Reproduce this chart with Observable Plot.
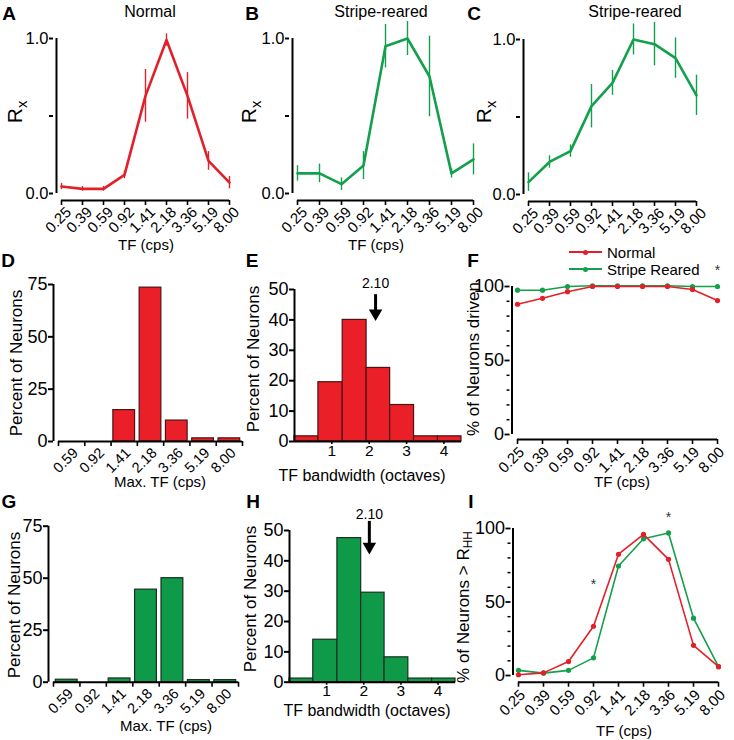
<!DOCTYPE html>
<html><head><meta charset="utf-8">
<script src="https://cdn.jsdelivr.net/npm/d3@7"></script>
<script src="https://cdn.jsdelivr.net/npm/@observablehq/plot@0.6"></script>
<style>
body{margin:0;background:#fff;}
#fig{position:relative;width:734px;height:740px;font-family:"Liberation Sans",Arial,sans-serif;color:#000;overflow:hidden;background:#fff}
.t{position:absolute;white-space:nowrap;transform:translate(-50%,-50%);line-height:1}
.yl{position:absolute;white-space:nowrap;transform:translate(-50%,-50%) rotate(-90deg);line-height:1}
.let{position:absolute;white-space:nowrap;transform:translate(-50%,-50%);font-weight:bold;font-size:19px;line-height:1}
sub{font-size:70%;vertical-align:-0.3em}
</style></head><body><div id="fig"></div>
<script>
// ---------------- data ----------------
const tfLabels = ["0.25","0.39","0.59","0.92","1.41","2.18","3.36","5.19","8.00"];
// A: Normal, normalized response (mean, error)
const rxNormal    = [0.045, 0.03, 0.03, 0.12, 0.63, 0.99, 0.63, 0.21, 0.07];
const rxNormalErr = [0.02, 0.015, 0.015, 0.025, 0.17, 0.04, 0.15, 0.06, 0.04];
// B: Stripe-reared
const rxStripeB    = [0.13, 0.13, 0.06, 0.18, 0.95, 1.0, 0.755, 0.13, 0.22];
const rxStripeBErr = [0.05, 0.06, 0.04, 0.09, 0.14, 0.11, 0.26, 0.03, 0.10];
// C: Stripe-reared
const rxStripeC    = [0.08, 0.21, 0.28, 0.57, 0.72, 1.0, 0.97, 0.88, 0.64];
const rxStripeCErr = [0.06, 0.04, 0.04, 0.14, 0.08, 0.10, 0.14, 0.13, 0.13];
// D / G: Max TF distributions
const maxTfLabels = ["0.59","0.92","1.41","2.18","3.36","5.19","8.00"];
const maxTfNormal = [0, 0, 15, 73.5, 10, 1.5, 1.5];
const maxTfStripe = [1.2, 0, 1.8, 44.5, 50, 1, 1];
// E / H: TF bandwidth histograms
const bwEdges  = [0, 0.64, 1.29, 1.93, 2.56, 3.2, 3.84, 4.47];
const bwNormal = [1.7, 19.5, 40, 24.2, 12, 1.7, 1.7];
const bwStripe = [1.2, 14, 47.5, 29.5, 8.2, 1.2, 1.2];
const bwMedianText = "2.10";
const bwArrowE = {x: 2.17, top: 48.3, tip: 39.6, label: 52};
const bwArrowH = {x: 2.15, top: 53, tip: 42.1, label: 55.3};
// F: % neurons driven
const drivenNormal = [88, 92, 96.5, 100, 100, 100, 100, 98, 90.5];
const drivenStripe = [97.5, 97.5, 100, 100.5, 100.5, 100.5, 100.5, 100, 100];
const drivenStars = [{tf: "8.00", v: 111}];
// I: % neurons > R_HH
const rhhNormal = [0.5, 1.8, 9.5, 33.5, 82.5, 96, 79, 20.5, 6];
const rhhStripe = [3.5, 1.6, 3.5, 12, 74.5, 93, 97, 39, 6];
const rhhStars = [{tf: "0.92", v: 62}, {tf: "3.36", v: 107.5}];
const seriesNames = ["Normal", "Stripe Reared"];

// ---------------- styles ----------------
const FONT = '"Liberation Sans", Arial, sans-serif';
const RED = "#e3202a", GREEN = "#13a04c";
const BAR_RED = "#ea1f27", BAR_GREEN = "#0f9a49";
const EDGE_RED = "#4a1414", EDGE_GREEN = "#17301f";
const style = {fontFamily: FONT, fontSize: "15px", background: "transparent", overflow: "visible", color: "#000"};
const fig = document.getElementById("fig");

function put(svg, left, top, xTickSize) {
  svg.style.position = "absolute";
  svg.style.left = left + "px";
  svg.style.top = top + "px";
  svg.style.maxWidth = "none";
  if (xTickSize) {
    svg.querySelectorAll('[aria-label="x-axis tick label"]').forEach(g => {
      g.style.fontSize = xTickSize + "px";
      g.querySelectorAll("text").forEach(t => t.style.fontSize = xTickSize + "px");
    });
  }
  fig.appendChild(svg);
}
function label(html, x, y, cls, size) {
  const d = document.createElement("div");
  d.className = cls;
  d.innerHTML = html;
  d.style.left = x + "px";
  d.style.top = y + "px";
  if (size) d.style.fontSize = size + "px";
  fig.appendChild(d);
}
// rotated tick labels: the top-right corner of each label sits at (tick + dx, frame bottom + dy)
function rotLabels(opts) {
  return Plot.axisX({tickSize: 0, tickPadding: 0, tickRotate: -45, textAnchor: "end", lineAnchor: "top", label: null, ...opts});
}

// ---------------- panels A-C ----------------
function rxPanel(vals, errs, color, width, m) {
  const data = tfLabels.map((tf, i) => ({tf, v: vals[i], e: errs[i]}));
  return Plot.plot({
    width, height: 230, marginLeft: m[0], marginRight: m[1], marginTop: m[2], marginBottom: m[3],
    x: {type: "point", domain: tfLabels, padding: 0},
    y: {domain: [0, 1]},
    style,
    marks: [
      Plot.ruleX([tfLabels[0]], {y1: 0, y2: 1, dx: -5, strokeWidth: 2}),
      Plot.ruleY([0], {x1: () => tfLabels[0], x2: () => tfLabels[tfLabels.length - 1], dy: 7, strokeWidth: 2}),
      Plot.axisY({ticks: [0, 0.5, 1], tickFormat: d => d === 0.5 ? "" : d.toFixed(1), tickSize: 4, tickPadding: 1, dx: -5, fontSize: 16.5, strokeWidth: 2, label: null}),
      Plot.axisX({tickSize: 5, tickFormat: () => "", dy: 7, strokeWidth: 1.6, label: null}),
      rotLabels({dx: 3, dy: 12}),
      Plot.ruleX(data, {x: "tf", y1: d => d.v - d.e, y2: d => d.v + d.e, stroke: color, strokeWidth: 1.4}),
      Plot.line(data, {x: "tf", y: "v", stroke: color, strokeWidth: 2.6})
    ]
  });
}
put(rxPanel(rxNormal, rxNormalErr, RED, 240, [58, 8, 38, 37]), 0, 0, 15);
put(rxPanel(rxStripeB, rxStripeBErr, GREEN, 240, [54, 4, 38, 37]), 240, 0, 15);
put(rxPanel(rxStripeC, rxStripeCErr, GREEN, 254, [45, 35, 39, 36]), 480, 0, 15);

// ---------------- panels D, G ----------------
function maxTfPanel(vals, fill, edge, width, height, m) {
  const n = maxTfLabels.length;
  const data = vals.map((v, i) => ({i, v})).filter(d => d.v > 0);
  return Plot.plot({
    width, height, marginLeft: m[0], marginRight: m[1], marginTop: m[2], marginBottom: m[3],
    x: {domain: [0, n]}, y: {domain: [0, 75]},
    style,
    marks: [
      Plot.rect(data, {x1: "i", x2: d => d.i + 1, y1: 0, y2: "v", fill, stroke: edge, strokeWidth: 1.2, insetLeft: 2.3, insetRight: 2.3}),
      Plot.ruleX([0], {y1: 0, y2: 75, dx: -5, strokeWidth: 2}),
      Plot.ruleY([0], {x1: 0, x2: n, strokeWidth: 2}),
      Plot.axisY({ticks: [0, 25, 50, 75], tickSize: 5, tickPadding: 1, dx: -5, fontSize: 18, strokeWidth: 2, label: null}),
      Plot.axisX({ticks: d3.range(n + 1), tickSize: 5, tickFormat: () => "", strokeWidth: 1.6, label: null}),
      rotLabels({ticks: d3.range(n).map(i => i + 0.5), tickFormat: v => maxTfLabels[Math.floor(v)], dx: 0, dy: 5})
    ]
  });
}
put(maxTfPanel(maxTfNormal, BAR_RED, EDGE_RED, 245, 240, [58, 3, 44, 39]), 0, 240, 14.5);
put(maxTfPanel(maxTfStripe, BAR_GREEN, EDGE_GREEN, 245, 250, [53, 7, 35.7, 58.3]), 0, 490, 14.5);

// ---------------- panels E, H ----------------
function bwPanel(vals, fill, edge, width, height, m, arrow) {
  const data = vals.map((v, i) => ({x1: bwEdges[i], x2: bwEdges[i + 1], v}));
  const xmax = bwEdges[bwEdges.length - 1];
  return Plot.plot({
    width, height, marginLeft: m[0], marginRight: m[1], marginTop: m[2], marginBottom: m[3],
    x: {domain: [0, xmax]}, y: {domain: [0, 50]},
    style,
    marks: [
      Plot.rect(data, {x1: "x1", x2: "x2", y1: 0, y2: "v", fill, stroke: edge, strokeWidth: 1.2}),
      Plot.ruleX([0], {y1: 0, y2: 50, strokeWidth: 2}),
      Plot.ruleY([0], {x1: 0, x2: xmax, strokeWidth: 2}),
      Plot.axisY({ticks: [0, 10, 20, 30, 40, 50], tickSize: 5, tickPadding: 1, fontSize: 18, strokeWidth: 2, label: null}),
      Plot.axisX({ticks: [1, 2, 3, 4], tickFormat: d3.format("d"), tickSize: 3, tickPadding: 0, strokeWidth: 1.6, label: null}),
      Plot.ruleX([arrow], {x: "x", y1: "top", y2: "tip", strokeWidth: 3, insetBottom: 6}),
      Plot.dot([arrow], {x: "x", y: "tip", symbol: "triangle", r: 5, rotate: 180, fill: "black", stroke: "none", dy: -7.8}),
      Plot.text([arrow], {x: "x", y: "label", text: () => bwMedianText, fontSize: 14})
    ]
  });
}
put(bwPanel(bwNormal, BAR_RED, EDGE_RED, 240, 240, [49, 24, 49, 39], bwArrowE), 245, 240, 15.5);
put(bwPanel(bwStripe, BAR_GREEN, EDGE_GREEN, 240, 250, [44, 30, 40, 58.3], bwArrowH), 245, 490, 15.5);

// ---------------- panels F, I ----------------
function pctPanel(normal, stripe, stars, width, height, m, axisGap) {
  const dn = tfLabels.map((tf, i) => ({tf, v: normal[i]}));
  const ds = tfLabels.map((tf, i) => ({tf, v: stripe[i]}));
  return Plot.plot({
    width, height, marginLeft: m[0], marginRight: m[1], marginTop: m[2], marginBottom: m[3],
    x: {type: "point", domain: tfLabels, padding: 0},
    y: {domain: [0, 100]},
    style,
    marks: [
      Plot.ruleX([tfLabels[0]], {y1: 0, y2: 100, dx: -5.5, strokeWidth: 2}),
      Plot.ruleY([0], {x1: () => tfLabels[0], x2: () => tfLabels[tfLabels.length - 1], dy: axisGap, strokeWidth: 2}),
      Plot.axisY({ticks: [0, 50, 100], tickSize: 5, tickPadding: 1, dx: -5.5, fontSize: 18, strokeWidth: 1.8, label: null}),
      Plot.axisY({ticks: d3.range(10, 100, 10).filter(t => t !== 50), tickSize: 3, tickFormat: () => "", dx: -5.5, strokeWidth: 1.5, label: null}),
      Plot.axisX({tickSize: 5, tickFormat: () => "", dy: axisGap, strokeWidth: 1.6, label: null}),
      rotLabels({dx: 0, dy: axisGap + 6}),
      Plot.line(ds, {x: "tf", y: "v", stroke: GREEN, strokeWidth: 1.6}),
      Plot.dot(ds, {x: "tf", y: "v", fill: GREEN, r: 2.6}),
      Plot.line(dn, {x: "tf", y: "v", stroke: RED, strokeWidth: 1.6}),
      Plot.dot(dn, {x: "tf", y: "v", fill: RED, r: 2.6}),
      Plot.text(stars, {x: "tf", y: "v", text: () => "*", fontSize: 14, fill: "#333"})
    ]
  });
}
put(pctPanel(drivenNormal, drivenStripe, drivenStars, 264, 240, [45, 15, 46, 46], 5), 470, 240, 15);
put(pctPanel(rhhNormal, rhhStripe, rhhStars, 264, 250, [46, 15, 38, 65], 6.7), 470, 490, 15);

// legend for F
[[seriesNames[0], RED, 252], [seriesNames[1], GREEN, 269]].forEach(([name, col, y]) => {
  const ln = document.createElement("div");
  ln.style.cssText = `position:absolute;left:569px;top:${y - 1}px;width:33px;height:2px;background:${col}`;
  fig.appendChild(ln);
  const dt = document.createElement("div");
  dt.style.cssText = `position:absolute;left:583px;top:${y - 2.5}px;width:5px;height:5px;border-radius:50%;background:${col}`;
  fig.appendChild(dt);
  const tx = document.createElement("div");
  tx.textContent = name;
  tx.style.cssText = `position:absolute;left:607px;top:${y}px;transform:translateY(-50%);font-size:15px;line-height:1;white-space:nowrap`;
  fig.appendChild(tx);
});

// ---------------- text labels ----------------
label("A", 9, 13, "let"); label("B", 252, 13, "let"); label("C", 474, 13, "let");
label("D", 8, 260, "let"); label("E", 252, 260, "let"); label("F", 473, 260, "let");
label("G", 9, 501, "let"); label("H", 253, 501, "let"); label("I", 471, 501, "let");

label("Normal", 150, 12, "t", 16);
label("Stripe-reared", 381, 12, "t", 16);
label("Stripe-reared", 635, 12, "t", 16);

label("R<sub>x</sub>", 17, 112, "yl", 21);
label("R<sub>x</sub>", 251, 112, "yl", 21);
label("R<sub>x</sub>", 486, 112, "yl", 21);

label("TF (cps)", 146, 244, "t", 15);
label("TF (cps)", 376, 244, "t", 15);

label("Percent of Neurons", 16, 363, "yl", 17);
label("Percent of Neurons", 253, 359, "yl", 17);
label("% of Neurons driven", 473, 359, "yl", 17);
label("Max. TF (cps)", 160, 481, "t", 15);
label("TF bandwidth (octaves)", 362, 476, "t", 16);
label("TF (cps)", 622, 481, "t", 15);

label("Percent of Neurons", 14, 605, "yl", 17);
label("Percent of Neurons", 250, 599, "yl", 17);
label("% of Neurons &gt; R<sub>HH</sub>", 465, 607, "yl", 17);
label("Max. TF (cps)", 166, 725, "t", 15);
label("TF bandwidth (octaves)", 367, 711, "t", 16);
label("TF (cps)", 624, 730, "t", 15);
</script></body></html>
